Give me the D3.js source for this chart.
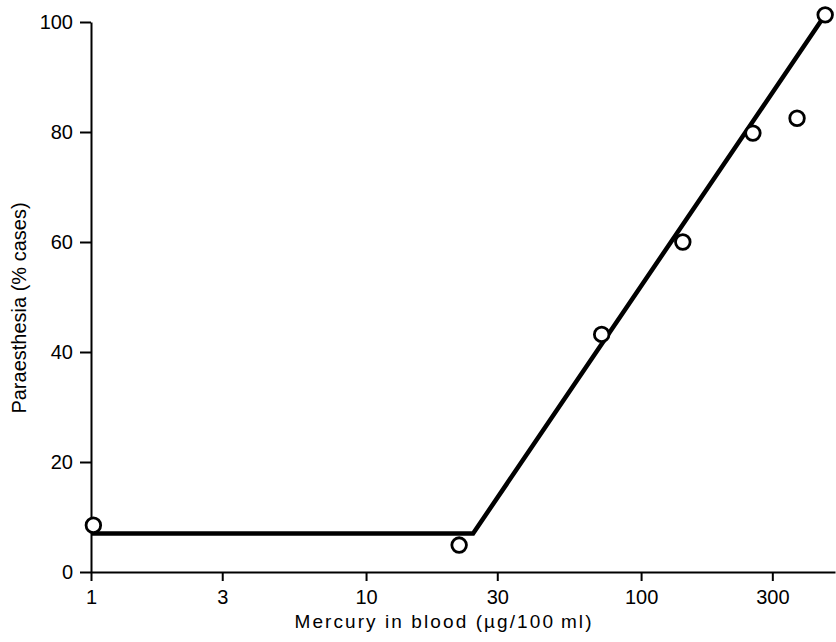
<!DOCTYPE html>
<html>
<head>
    <script src="https://d3js.org/d3.v7.min.js"></script>
    <style>
        body { margin: 0; background: #fff; }
        text { font-family: "Liberation Sans", Arial, sans-serif; fill: #000; }
    </style>
</head>
<body>
<script>
// tick values
const xTicks = [1, 3, 10, 30, 100, 300];
const yTicks = [0, 20, 40, 60, 80, 100];

// observed points: mercury in blood (ug/100 ml) vs paraesthesia (% cases)
const mercury = [1.02, 21.8, 71.9, 141.8, 255, 369, 467];
const paraesthesia = [8.5, 4.9, 43.2, 60.0, 79.8, 82.5, 101.3];

// fitted broken line
const fitMercury = [1, 24.5, 467];
const fitParaesthesia = [7.0, 7.0, 101.3];

const width = 836;
const height = 642;

const x = d3.scaleLog()
    .domain([1, 507])
    .range([91, 835]);

const y = d3.scaleLinear()
    .domain([0, 100])
    .range([572, 22]);

const svg = d3.select('body').append('svg')
    .attr('width', width)
    .attr('height', height);

const yAxis = svg.append('g')
    .attr('transform', `translate(${x(1)}, 0)`)
    .call(d3.axisLeft(y).tickValues(yTicks).tickSize(11).tickSizeOuter(0).tickPadding(7));

const xAxis = svg.append('g')
    .attr('transform', `translate(0, ${y(0)})`)
    .call(d3.axisBottom(x).tickValues(xTicks).tickFormat(d3.format('d'))
        .tickSize(9).tickSizeOuter(0).tickPadding(9));

[xAxis, yAxis].forEach(g => {
    g.select('.domain').attr('stroke', '#000').attr('stroke-width', 2);
    g.selectAll('.tick line').attr('stroke', '#000').attr('stroke-width', 2);
    g.selectAll('.tick text')
        .attr('font-size', 20)
        .attr('font-family', '"Liberation Sans", Arial, sans-serif')
        .attr('fill', '#000');
});

const fit = fitMercury.map((m, i) => ({x: m, y: fitParaesthesia[i]}));
const line = d3.line()
    .x(d => x(d.x))
    .y(d => y(d.y));

svg.append('path')
    .datum(fit)
    .attr('fill', 'none')
    .attr('stroke', '#000')
    .attr('stroke-width', 4.5)
    .attr('stroke-linejoin', 'miter')
    .attr('d', line);

const points = mercury.map((m, i) => ({x: m, y: paraesthesia[i]}));
svg.append('g')
    .selectAll('circle')
    .data(points)
    .join('circle')
    .attr('cx', d => x(d.x))
    .attr('cy', d => y(d.y))
    .attr('r', 7.3)
    .attr('fill', '#fff')
    .attr('stroke', '#000')
    .attr('stroke-width', 2.8);

svg.append('text')
    .attr('x', 443)
    .attr('y', 628)
    .attr('text-anchor', 'middle')
    .attr('font-size', 19)
    .attr('textLength', 297)
    .attr('lengthAdjust', 'spacing')
    .text('Mercury in blood (\u00b5g/100\u2009ml)');

svg.append('text')
    .attr('transform', 'translate(26, 308) rotate(-90)')
    .attr('text-anchor', 'middle')
    .attr('font-size', 20)
    .text('Paraesthesia (% cases)');
</script>
</body>
</html>
